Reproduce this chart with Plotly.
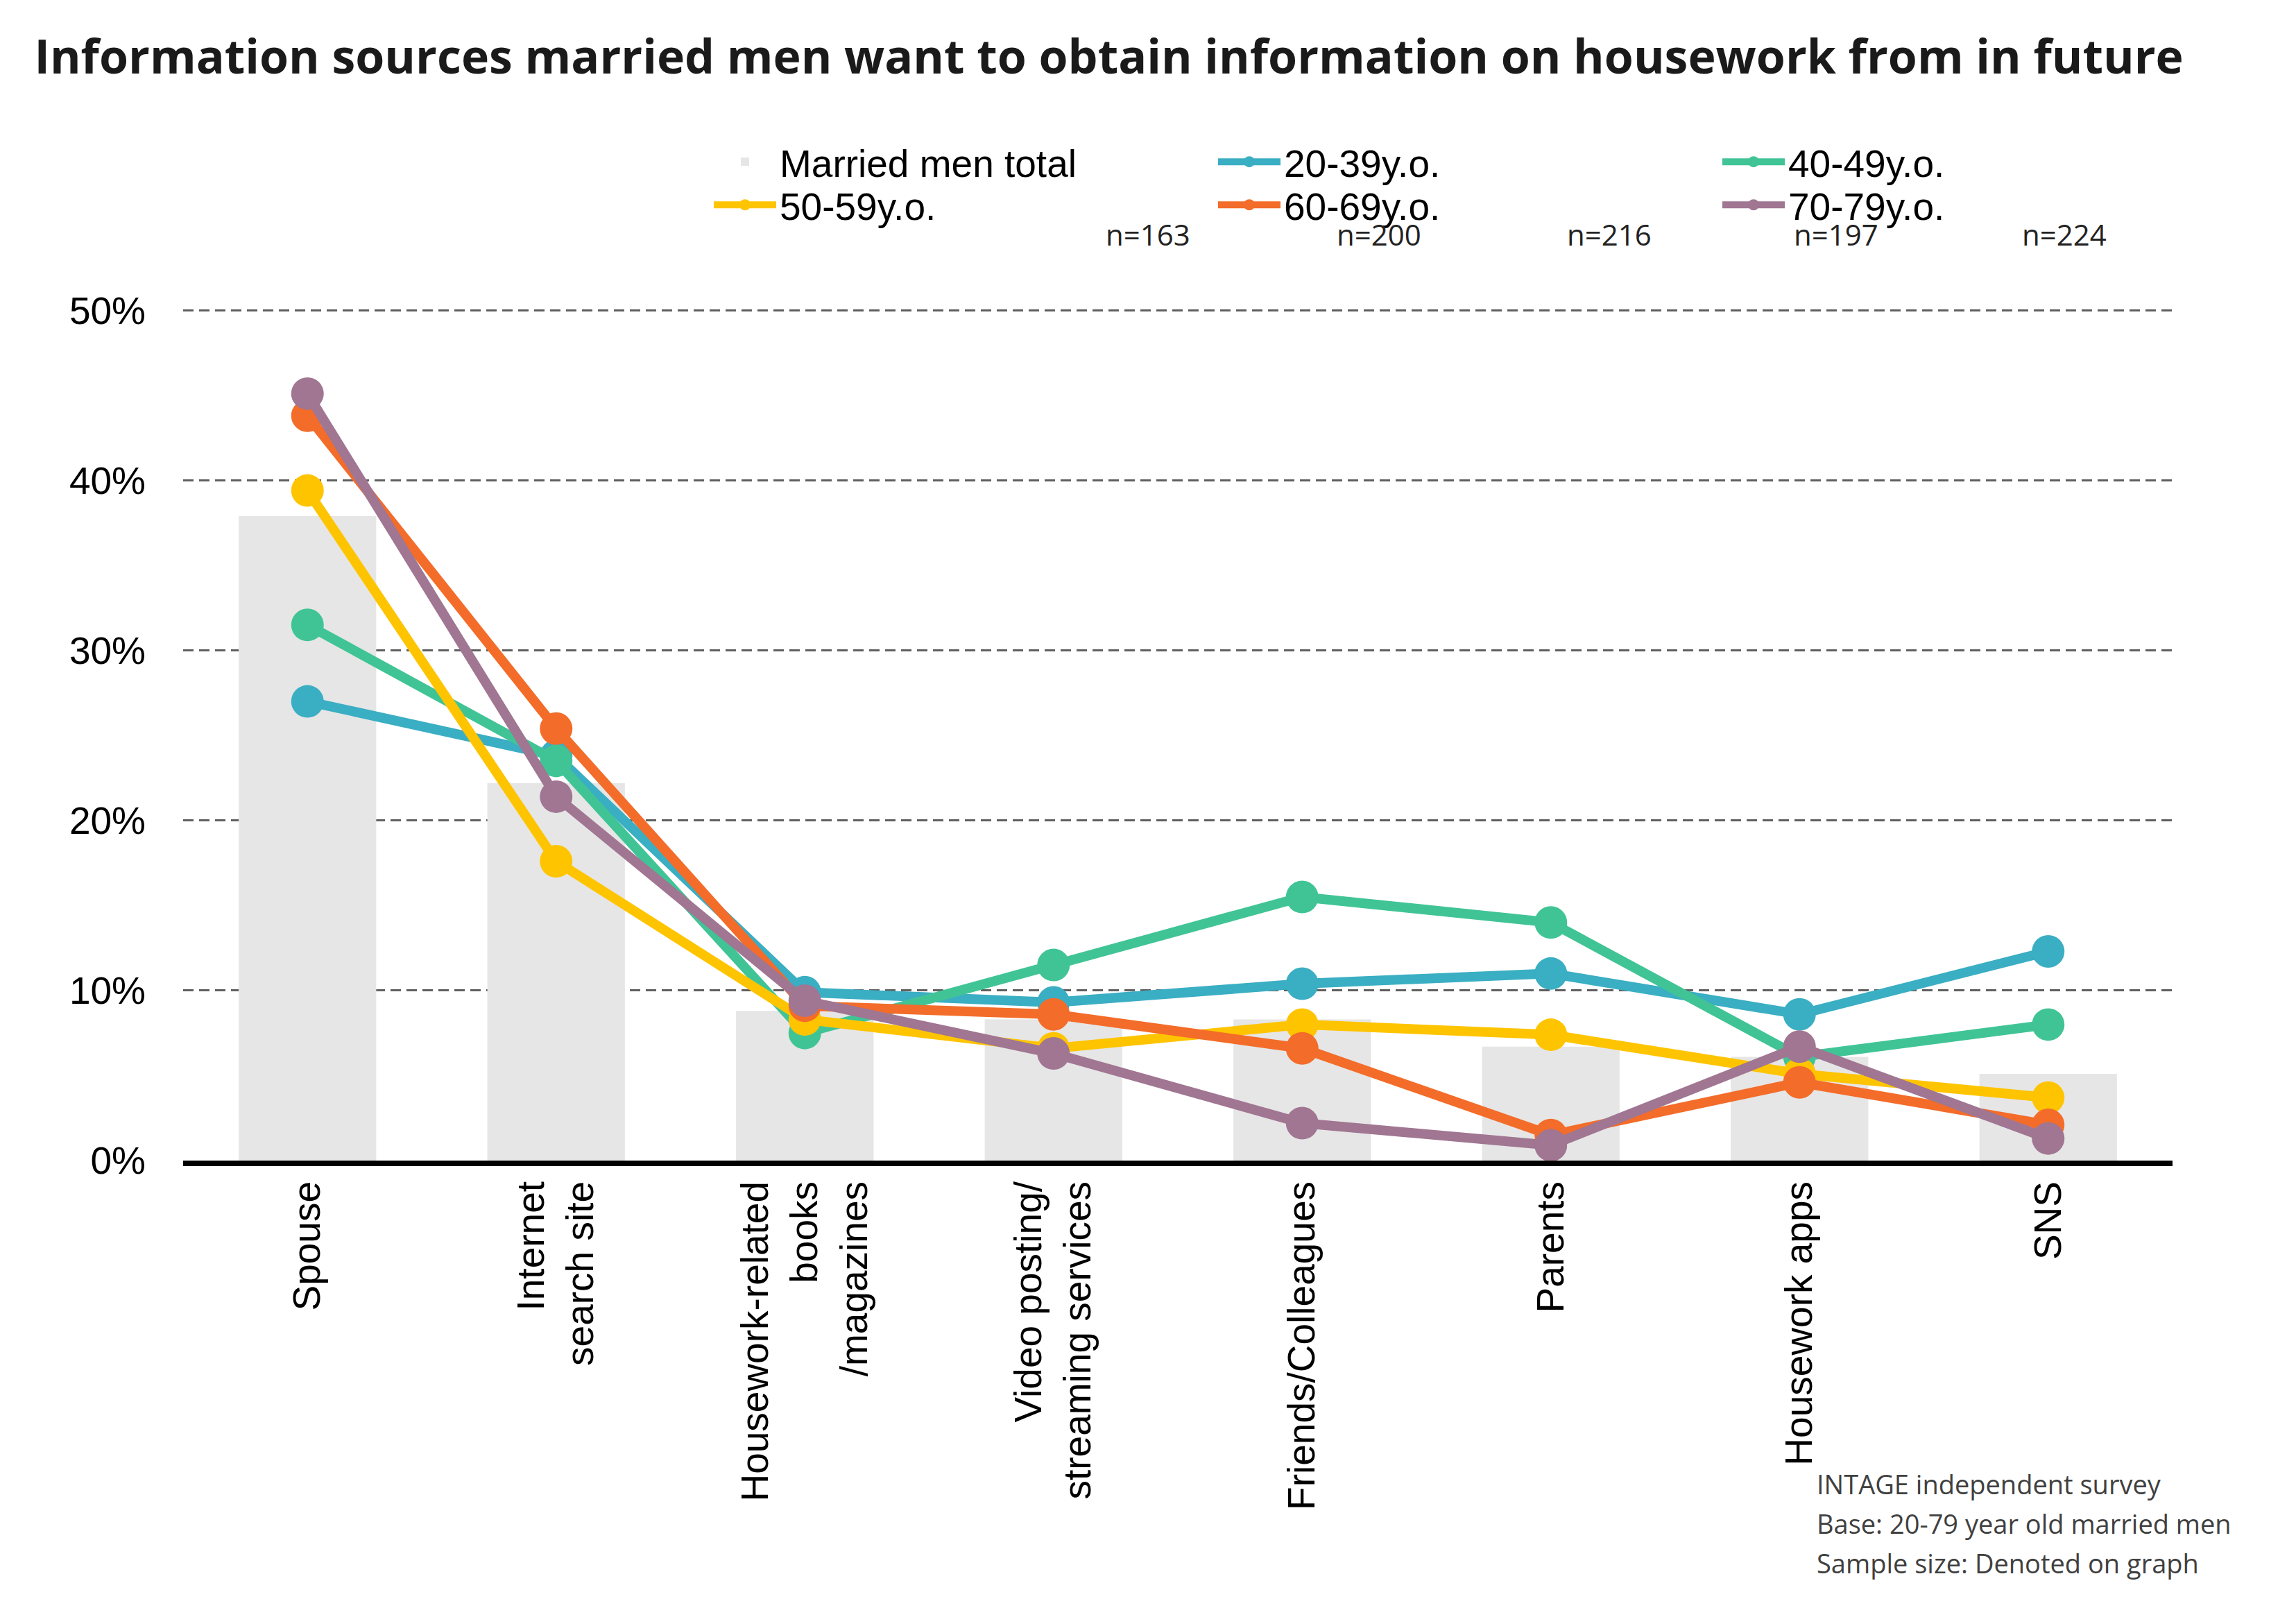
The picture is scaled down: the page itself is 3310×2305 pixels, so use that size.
import plotly.graph_objects as go

categories = ["Spouse", "Internet<br>search site", "Housework-related<br>books<br>/magazines",
              "Video posting/<br>streaming services", "Friends/Colleagues", "Parents",
              "Housework apps", "SNS"]

total = [37.9, 22.2, 8.8, 8.3, 8.3, 6.7, 6.1, 5.1]
age_20_39 = [27.0, 23.8, 9.9, 9.3, 10.4, 11.0, 8.6, 12.3]
age_40_49 = [31.5, 23.5, 7.5, 11.5, 15.5, 14.0, 6.1, 8.0]
age_50_59 = [39.4, 17.6, 8.3, 6.6, 8.0, 7.4, 5.1, 3.7]
age_60_69 = [43.8, 25.4, 9.1, 8.6, 6.6, 1.5, 4.6, 2.1]
age_70_79 = [45.1, 21.4, 9.4, 6.3, 2.2, 0.9, 6.7, 1.3]

series_names = ["20-39y.o.", "40-49y.o.", "50-59y.o.", "60-69y.o.", "70-79y.o."]
series_values = [age_20_39, age_40_49, age_50_59, age_60_69, age_70_79]
series_colors = ["#3AAEC3", "#40C496", "#FFC400", "#F36C29", "#A07692"]
series_legend = ["legend", "legend", "legend2", "legend2", "legend2"]

sample_sizes = ["n=163", "n=200", "n=216", "n=197", "n=224"]
sample_x = [0.4850, 0.6010, 0.7168, 0.8308, 0.9455]

yticks = [0, 10, 20, 30, 40, 50]
yticklabels = ["0%", "10%", "20%", "30%", "40%", "50%"]

footnotes = ["INTAGE independent survey", "Base: 20-79 year old married men",
             "Sample size: Denoted on graph"]

AX_FONT = "Liberation Sans, Arial, sans-serif"
CAL_FONT = "Open Sans, sans-serif"

fig = go.Figure()
fig.add_trace(go.Bar(x=categories, y=total, name="Married men total", legend="legend",
                     marker=dict(color="#E6E6E6", line=dict(width=0))))
for name, vals, col, lg in zip(series_names, series_values, series_colors, series_legend):
    fig.add_trace(go.Scatter(x=categories, y=vals, name=name, mode="lines+markers",
                             legend=lg,
                             line=dict(color=col, width=14),
                             marker=dict(color=col, size=47),
                             cliponaxis=False))

annotations = []
for t, xp in zip(sample_sizes, sample_x):
    annotations.append(dict(text=t, x=xp, y=1.0784, xref="paper", yref="paper",
                            xanchor="center", yanchor="middle", showarrow=False,
                            font=dict(family=CAL_FONT, size=42, color="#222222")))
foot_y = [-0.3764, -0.4225, -0.4685]
for t, yp in zip(footnotes, foot_y):
    annotations.append(dict(text=t, x=0.8205, y=yp, xref="paper", yref="paper",
                            xanchor="left", yanchor="middle", showarrow=False,
                            font=dict(family=CAL_FONT, size=38, color="#404040")))

legend_common = dict(orientation="h", xanchor="left", yanchor="middle",
                     font=dict(family=AX_FONT, size=55, color="#000000"),
                     itemwidth=90, entrywidth=622, entrywidthmode="pixels",
                     bgcolor="rgba(0,0,0,0)", traceorder="normal")

fig.update_layout(
    width=3310, height=2305,
    margin=dict(l=256, r=186, t=427, b=640),
    paper_bgcolor="white", plot_bgcolor="white",
    bargap=0.447,
    title=dict(text="<b>Information sources married men want to obtain information on housework from in future</b>",
               x=0.0125, xanchor="left", y=0.968, yanchor="middle",
               font=dict(family=CAL_FONT, size=68, color="#1a1a1a")),
    legend=dict(x=0.265, y=1.1628, **legend_common),
    legend2=dict(x=0.265, y=1.1127, **legend_common),
    annotations=annotations,
    font=dict(family=AX_FONT, color="#000000"),
)
fig.update_xaxes(range=[-0.5, 7.5], tickangle=-90, showgrid=False, zeroline=False,
                 showline=True, linecolor="#000000", linewidth=8, ticks="",
                 tickfont=dict(family=AX_FONT, size=55, color="#000000"),
                 ticklabelstandoff=0)
fig.update_yaxes(range=[0, 50.5], tickvals=yticks, ticktext=yticklabels, showgrid=True,
                 gridcolor="#5F5F5F", gridwidth=3, griddash="15px,8px",
                 zeroline=False, showline=False, ticks="",
                 tickfont=dict(family=AX_FONT, size=55, color="#000000"),
                 ticklabelstandoff=53)

fig.write_html("out.html")
